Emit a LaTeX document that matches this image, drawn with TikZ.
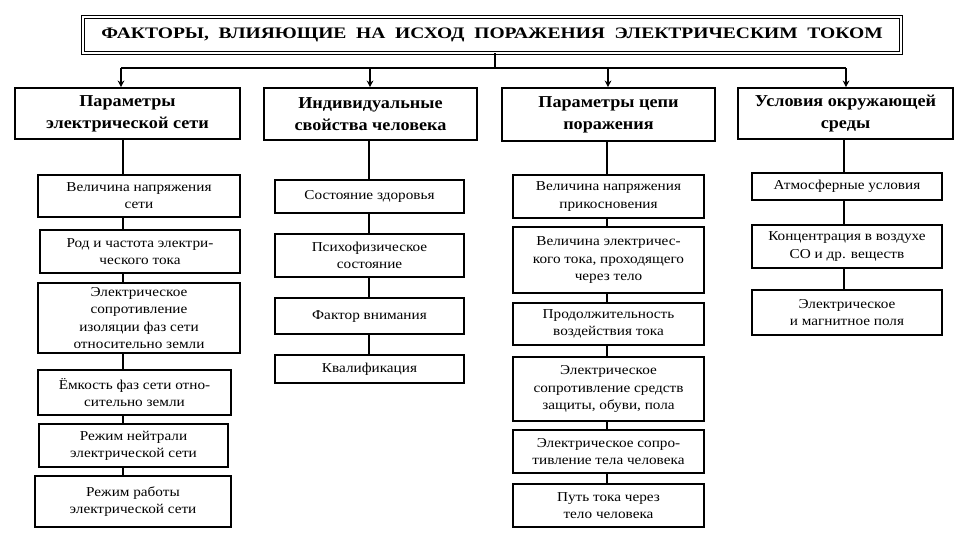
\documentclass[tikz,border=0pt]{standalone}
\usepackage{fontspec}
\setmainfont{Liberation Serif}
\newfontfamily\bodyfont[FakeStretch=1.12]{Liberation Serif}
\newfontfamily\headfont[FakeStretch=1.09]{Liberation Serif}
\newfontfamily\titlefont[FakeStretch=1.22]{Liberation Serif}
\usetikzlibrary{arrows.meta}
\tikzset{
  basebox/.style={draw, line width=1.1pt, inner sep=0pt, align=center},
  titlebox/.style={basebox, double, double distance=1.2pt, line width=0.7pt, font=\titlefont\bfseries\fontsize{12}{14}\selectfont},
  headbox/.style={basebox, line width=1.2pt, font=\headfont\bfseries\fontsize{12.5}{16.5}\selectfont},
  itembox/.style={basebox, font=\bodyfont\fontsize{10.2}{12.9}\selectfont},
  conn/.style={line width=1.1pt},
  arr/.style={line width=1.1pt, -{Stealth[length=5pt,width=5pt]}}
}
\newcommand{\mkbox}[7]{\node[#1, minimum width={(#4-#2)*0.75pt}, minimum height={(#5-#3)*0.75pt}] (#6) at ({(#2+#4)/2},{(#3+#5)/2}) {#7};}
\begin{document}
\begin{tikzpicture}[x=0.75pt,y=-0.75pt]
\useasboundingbox (0,0) rectangle (960,540);
\fill[white] (0,0) rectangle (960,540);
% title
\mkbox{titlebox}{83}{17}{901}{53}{title}{\makebox[586pt][s]{ФАКТОРЫ, ВЛИЯЮЩИЕ НА ИСХОД ПОРАЖЕНИЯ ЭЛЕКТРИЧЕСКИМ ТОКОМ}}
% headers
\mkbox{headbox}{15}{88}{240}{139}{h1}{Параметры\\электрической сети}
\mkbox{headbox}{264}{88}{477}{140}{h2}{Индивидуальные\\свойства человека}
\mkbox{headbox}{502}{88}{715}{141}{h3}{Параметры цепи\\поражения}
\mkbox{headbox}{738}{88}{953}{139}{h4}{Условия окружающей\\среды}
% column 1
\mkbox{itembox}{38}{175}{240}{217}{a1}{Величина напряжения\\сети}
\mkbox{itembox}{40}{230}{240}{273}{a2}{Род и частота электри-\\ческого тока}
\mkbox{itembox}{38}{283}{240}{353}{a3}{Электрическое\\сопротивление\\изоляции фаз сети\\относительно земли}
\mkbox{itembox}{38}{370}{231}{415}{a4}{Ёмкость фаз сети отно-\\сительно земли}
\mkbox{itembox}{39}{424}{228}{467}{a5}{Режим нейтрали\\электрической сети}
\mkbox{itembox}{35}{476}{231}{527}{a6}{Режим работы\\электрической сети}
% column 2
\mkbox{itembox}{275}{180}{464}{213}{b1}{Состояние здоровья}
\mkbox{itembox}{275}{234}{464}{277}{b2}{Психофизическое\\состояние}
\mkbox{itembox}{275}{298}{464}{334}{b3}{Фактор внимания}
\mkbox{itembox}{275}{355}{464}{383}{b4}{Квалификация}
% column 3
\mkbox{itembox}{513}{175}{704}{218}{c1}{Величина напряжения\\прикосновения}
\mkbox{itembox}{513}{227}{704}{293}{c2}{Величина электричес-\\кого тока, проходящего\\через тело}
\mkbox{itembox}{513}{303}{704}{345}{c3}{Продолжительность\\воздействия тока}
\mkbox{itembox}{513}{357}{704}{421}{c4}{Электрическое\\сопротивление средств\\защиты, обуви, пола}
\mkbox{itembox}{513}{430}{704}{473}{c5}{Электрическое сопро-\\тивление тела человека}
\mkbox{itembox}{513}{484}{704}{527}{c6}{Путь тока через\\тело человека}
% column 4
\mkbox{itembox}{752}{173}{942}{200}{d1}{Атмосферные условия}
\mkbox{itembox}{752}{225}{942}{268}{d2}{Концентрация в воздухе\\СО и др. веществ}
\mkbox{itembox}{752}{290}{942}{335}{d3}{Электрическое\\и магнитное поля}
% top distribution
\coordinate (tb) at (495,68);
\coordinate (T1) at (121,68);
\coordinate (T2) at (370,68);
\coordinate (T3) at (608,68);
\coordinate (T4) at (846,68);
\draw[conn] (title.south -| tb) -- (tb);
\draw[conn] (T1) -- (T4);
\draw[arr] (T1) -- (h1.north -| T1);
\draw[arr] (T2) -- (h2.north -| T2);
\draw[arr] (T3) -- (h3.north -| T3);
\draw[arr] (T4) -- (h4.north -| T4);
% column connectors
\coordinate (X1) at (123,0);
\coordinate (X2) at (369,0);
\coordinate (X3) at (607,0);
\coordinate (X4) at (844,0);
\draw[conn] (h1.south -| X1) -- (a1.north -| X1);
\draw[conn] (a1.south -| X1) -- (a2.north -| X1);
\draw[conn] (a2.south -| X1) -- (a3.north -| X1);
\draw[conn] (a3.south -| X1) -- (a4.north -| X1);
\draw[conn] (a4.south -| X1) -- (a5.north -| X1);
\draw[conn] (a5.south -| X1) -- (a6.north -| X1);
\draw[conn] (h2.south -| X2) -- (b1.north -| X2);
\draw[conn] (b1.south -| X2) -- (b2.north -| X2);
\draw[conn] (b2.south -| X2) -- (b3.north -| X2);
\draw[conn] (b3.south -| X2) -- (b4.north -| X2);
\draw[conn] (h3.south -| X3) -- (c1.north -| X3);
\draw[conn] (c1.south -| X3) -- (c2.north -| X3);
\draw[conn] (c2.south -| X3) -- (c3.north -| X3);
\draw[conn] (c3.south -| X3) -- (c4.north -| X3);
\draw[conn] (c4.south -| X3) -- (c5.north -| X3);
\draw[conn] (c5.south -| X3) -- (c6.north -| X3);
\draw[conn] (h4.south -| X4) -- (d1.north -| X4);
\draw[conn] (d1.south -| X4) -- (d2.north -| X4);
\draw[conn] (d2.south -| X4) -- (d3.north -| X4);
\end{tikzpicture}
\end{document}
